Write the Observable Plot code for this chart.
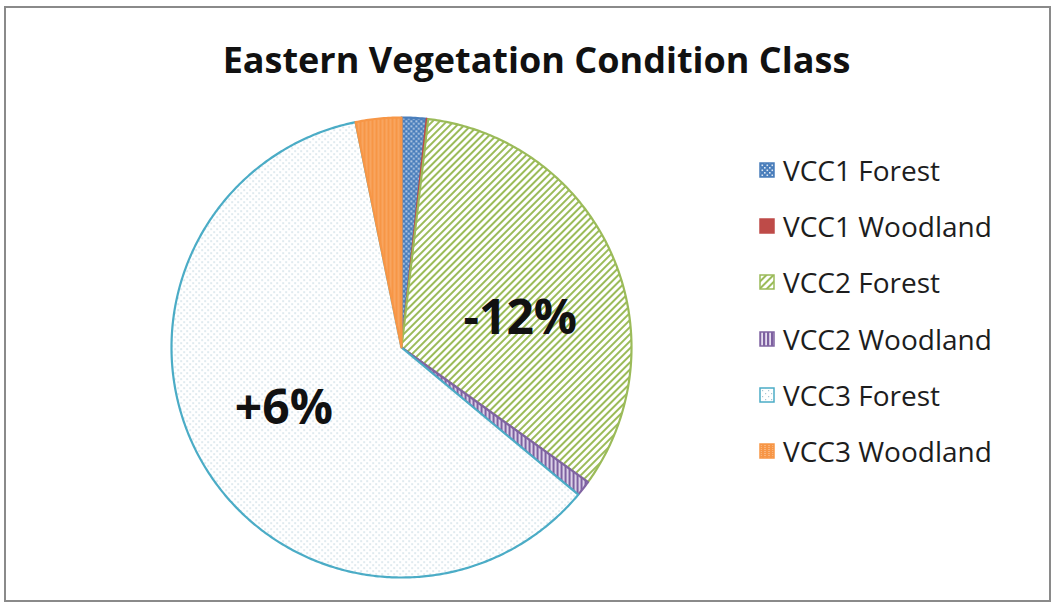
<!DOCTYPE html>
<html>
<head>
<meta charset="utf-8">
<script src="https://cdn.jsdelivr.net/npm/d3@7"></script>
<script src="https://cdn.jsdelivr.net/npm/@observablehq/plot@0.6"></script>
<style>
  html, body { margin: 0; padding: 0; background: #fff; }
  #wrap { position: relative; width: 1055px; height: 606px; overflow: hidden; font-family: "Open Sans", sans-serif; }
  #frame { position: absolute; left: 4px; top: 6px; width: 1047px; height: 596px; border: 2px solid #8a8a8a; box-sizing: border-box; }
  #title { position: absolute; left: 0; width: 1073px; top: 35px; text-align: center; font-size: 36px; font-weight: 700; color: #111; white-space: nowrap; }
  #chart { position: absolute; left: 0; top: 0; }
  #legend { position: absolute; left: 759px; top: 142px; }
  .item { display: flex; align-items: center; height: 56.2px; font-size: 28px; color: #1d1d1d; white-space: nowrap; }
  .item svg { margin-right: 8px; }
</style>
</head>
<body>
<svg width="0" height="0" style="position:absolute">
  <defs>
    <pattern id="pat-vcc1f" width="5" height="5" patternUnits="userSpaceOnUse">
      <rect width="5" height="5" fill="#4a7ebb"/>
      <rect x="0" y="0" width="1.6" height="1.6" fill="#dfe8f4"/>
      <rect x="2.5" y="2.5" width="1.6" height="1.6" fill="#dfe8f4"/>
    </pattern>
    <pattern id="pat-vcc1w" width="4" height="4" patternUnits="userSpaceOnUse">
      <rect width="4" height="4" fill="#be4b48"/>
    </pattern>
    <pattern id="pat-vcc2f" width="5" height="5" patternUnits="userSpaceOnUse" patternTransform="rotate(45)">
      <rect width="5" height="5" fill="#ffffff"/>
      <rect x="0" y="0" width="2" height="5" fill="#9bbb59"/>
    </pattern>
    <pattern id="pat-vcc2w" width="4" height="4" patternUnits="userSpaceOnUse">
      <rect width="4" height="4" fill="#e6def0"/>
      <rect x="0" y="0" width="2.2" height="4" fill="#7d60a0"/>
    </pattern>
    <pattern id="pat-vcc3f" width="6" height="6" patternUnits="userSpaceOnUse">
      <rect width="6" height="6" fill="#ffffff"/>
      <rect x="0" y="0" width="1.2" height="1.2" fill="#a9c6d3"/>
      <rect x="3" y="3" width="1.2" height="1.2" fill="#a9c6d3"/>
    </pattern>
    <pattern id="pat-vcc3w" width="4" height="4" patternUnits="userSpaceOnUse">
      <rect width="4" height="4" fill="#f79646"/>
      <rect x="1.5" y="0" width="1" height="1" fill="#fbd3b0"/>
      <rect x="1.5" y="2" width="1" height="1" fill="#fbd3b0"/>
    </pattern>
  </defs>
</svg>
<div id="wrap">
  <div id="frame"></div>
  <div id="chart"></div>
  <div id="title">Eastern Vegetation Condition Class</div>
  <div id="legend"></div>
</div>
<script>
// ---- data ----
const categories = ["VCC1 Forest", "VCC1 Woodland", "VCC2 Forest", "VCC2 Woodland", "VCC3 Forest", "VCC3 Woodland"];
const shares = [1.75, 0.1, 33.1, 1.1, 60.75, 3.2];
const strokeColors = ["#4a7ebb", "#be4b48", "#9bbb59", "#8064a2", "#4bacc6", "#f79646"];
const patternIds = ["pat-vcc1f", "pat-vcc1w", "pat-vcc2f", "pat-vcc2w", "pat-vcc3f", "pat-vcc3w"];
const labelSlices = ["VCC2 Forest", "VCC3 Forest"];
const labelTexts = ["-12%", "+6%"];

// ---- pie geometry from data ----
const total = d3.sum(shares);
let acc = 0;
const slices = categories.map((c, i) => {
  const a0 = acc / total * 2 * Math.PI;
  acc += shares[i];
  const a1 = acc / total * 2 * Math.PI;
  return {category: c, a0, a1, stroke: strokeColors[i], fill: `url(#${patternIds[i]})`};
});
function slicePoints(s) {
  const pts = [{category: s.category, x: 0, y: 0}];
  const n = Math.max(2, Math.ceil((s.a1 - s.a0) / 0.01));
  for (let k = 0; k <= n; k++) {
    const a = s.a0 + (s.a1 - s.a0) * k / n;
    pts.push({category: s.category, x: Math.sin(a), y: Math.cos(a)});
  }
  return pts;
}
const labels = labelSlices.map((c, i) => {
  const s = slices.find(d => d.category === c);
  const m = (s.a0 + s.a1) / 2;
  return {text: labelTexts[i], x: 0.55 * Math.sin(m), y: 0.55 * Math.cos(m)};
});

// pie radius 230px, centered at (401, 347)
const R = 230, cx = 401, cy = 347, W = 1055, H = 606;
const chart = Plot.plot({
  width: W, height: H,
  margin: 0,
  x: {domain: [-cx / R, (W - cx) / R], axis: null},
  y: {domain: [-(H - cy) / R, cy / R], axis: null},
  style: {background: "transparent", overflow: "visible"},
  marks: [
    ...slices.map(s => Plot.line(slicePoints(s), {
      x: "x", y: "y", curve: "linear-closed",
      fill: s.fill, stroke: s.stroke, strokeWidth: 2.2, strokeLinejoin: "round"
    })),
    Plot.text(labels.filter(d => d.text === "-12%"), {x: "x", y: "y", text: "text", dx: 3, dy: 22, fontSize: 48, fontWeight: 700, fill: "#111", fontFamily: "Open Sans"}),
    Plot.text(labels.filter(d => d.text === "+6%"), {x: "x", y: "y", text: "text", dx: -9, dy: -4, fontSize: 48, fontWeight: 700, fill: "#111", fontFamily: "Open Sans"})
  ]
});
document.getElementById("chart").appendChild(chart);

// legend
const leg = document.getElementById("legend");
categories.forEach((c, i) => {
  const div = document.createElement("div");
  div.className = "item";
  div.innerHTML = `<svg width="16" height="16"><rect x="1" y="1" width="14" height="14" fill="url(#${patternIds[i]})" stroke="${strokeColors[i]}" stroke-width="1.5"/></svg><span>${c}</span>`;
  leg.appendChild(div);
});
</script>
</body>
</html>
